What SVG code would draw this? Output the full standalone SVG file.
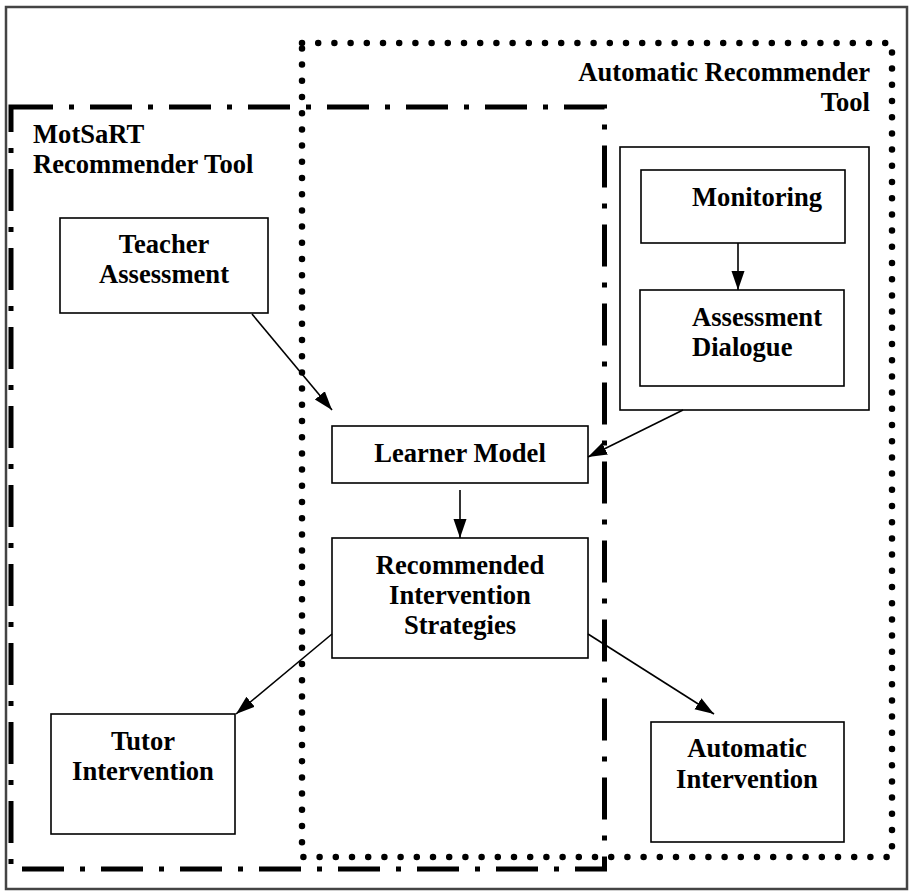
<svg xmlns="http://www.w3.org/2000/svg" width="910" height="891" viewBox="0 0 910 891">
<defs>
<style>
.t{font-family:"Liberation Serif","Times New Roman",serif;font-weight:bold;font-size:26.6px;fill:#000}
.m{text-anchor:middle}
.box{fill:#fff;stroke:#000;stroke-width:1.6}
.conn{stroke:#000;stroke-width:1.6;fill:none;marker-end:url(#ah)}
</style>
<marker id="ah" markerUnits="userSpaceOnUse" markerWidth="20" markerHeight="16" viewBox="0 0 20 16" refX="19" refY="8" orient="auto">
<path d="M0,1.5 L19,8 L0,14.5 Z" fill="#000"/>
</marker>
</defs>
<rect width="910" height="891" fill="#fff"/>
<g id="frame"><rect x="6" y="7" width="901" height="882" fill="none" stroke="#444" stroke-width="2.5"/></g>
<g id="automatic-recommender-tool">
<rect x="302" y="43" width="590" height="814" fill="none" stroke="#000" stroke-width="6.5" stroke-linecap="round" stroke-dasharray="0 16.2"/>
<text class="t" x="870" y="81" text-anchor="end">Automatic Recommender</text>
<text class="t" x="870" y="111" text-anchor="end">Tool</text>
</g>
<g id="motsart-recommender-tool">
<rect x="11" y="107" width="593.5" height="762" fill="none" stroke="#000" stroke-width="5" stroke-dasharray="42 16 5 16"/>
<text class="t" x="33" y="143">MotSaRT</text>
<text class="t" x="33" y="173">Recommender Tool</text>
</g>
<g id="teacher-assessment">
<rect class="box" x="60" y="218" width="208" height="95"/>
<text class="t m" x="164" y="253">Teacher</text>
<text class="t m" x="164" y="283">Assessment</text>
</g>
<g id="auto-container"><rect class="box" x="620" y="147" width="249" height="263"/></g>
<g id="monitoring">
<rect class="box" x="641" y="170" width="204" height="73"/>
<text class="t" x="692" y="206">Monitoring</text>
</g>
<g id="assessment-dialogue">
<rect class="box" x="640" y="290" width="204" height="96"/>
<text class="t" x="692" y="326">Assessment</text>
<text class="t" x="692" y="356">Dialogue</text>
</g>
<g id="learner-model">
<rect class="box" x="332" y="426" width="256" height="57"/>
<text class="t m" x="460" y="462">Learner Model</text>
</g>
<g id="recommended-intervention-strategies">
<rect class="box" x="332" y="538" width="256" height="120"/>
<text class="t m" x="460" y="574">Recommended</text>
<text class="t m" x="460" y="604">Intervention</text>
<text class="t m" x="460" y="634">Strategies</text>
</g>
<g id="tutor-intervention">
<rect class="box" x="51" y="714" width="184" height="120"/>
<text class="t m" x="143" y="750">Tutor</text>
<text class="t m" x="143" y="780">Intervention</text>
</g>
<g id="automatic-intervention">
<rect class="box" x="651" y="722" width="193" height="120"/>
<text class="t m" x="747" y="757">Automatic</text>
<text class="t m" x="747" y="788">Intervention</text>
</g>
<g id="connectors">
<line class="conn" x1="252" y1="314" x2="332" y2="410"/>
<line class="conn" x1="683" y1="410" x2="588" y2="457"/>
<line class="conn" x1="738" y1="243" x2="738" y2="290"/>
<line class="conn" x1="460" y1="490" x2="460" y2="538"/>
<line class="conn" x1="332" y1="634" x2="236" y2="714"/>
<line class="conn" x1="588" y1="634" x2="714" y2="714"/>
</g>
</svg>
